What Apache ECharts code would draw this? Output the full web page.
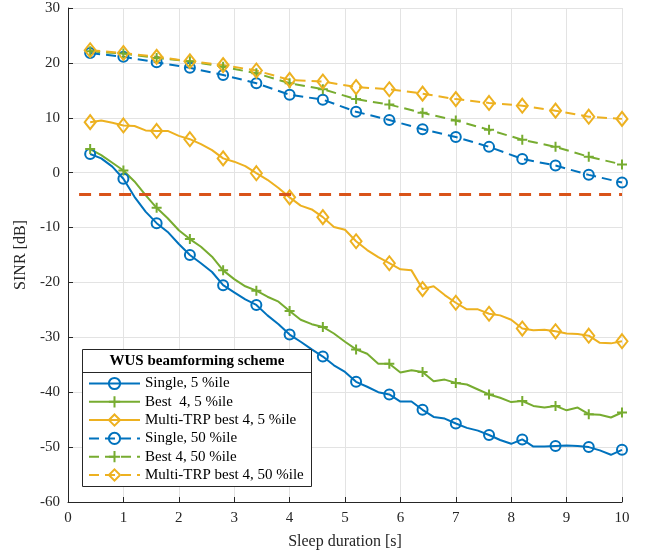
<!DOCTYPE html>
<html><head><meta charset="utf-8">
<script src="https://cdn.jsdelivr.net/npm/echarts@6/dist/echarts.min.js"></script>
<style>html,body{margin:0;padding:0;background:#fff}#c{width:647px;height:555px}</style>
</head><body><div id="c"></div>
<script>
// Sleep duration [s] - fine sampling for 5 %ile curves
const xFine = [0.4,0.6,0.8,1.0,1.2,1.4,1.6,1.8,2.0,2.2,2.4,2.6,2.8,3.0,3.2,3.4,3.6,3.8,4.0,4.2,4.4,4.6,4.8,5.0,5.2,5.4,5.6,5.8,6.0,6.2,6.4,6.6,6.8,7.0,7.2,7.4,7.6,7.8,8.0,8.2,8.4,8.6,8.8,9.0,9.2,9.4,9.6,9.8,10.0];
// marker positions / 50 %ile samples
const xMarker = [0.4,1.0,1.6,2.2,2.8,3.4,4.0,4.6,5.2,5.8,6.4,7.0,7.6,8.2,8.8,9.4,10.0];

const single5 = [3.4,2.6,1.1,-1.1,-4.4,-7.1,-9.2,-10.8,-13.0,-15.0,-16.5,-18.1,-20.5,-21.8,-23.1,-24.1,-26.0,-27.6,-29.5,-30.8,-32.2,-33.5,-35.1,-36.3,-38.1,-39.0,-40.0,-40.4,-41.7,-41.7,-43.2,-44.5,-44.8,-45.7,-46.5,-47.0,-47.8,-48.7,-49.4,-48.6,-49.9,-49.9,-49.8,-49.7,-49.8,-50.0,-50.6,-51.4,-50.5];
const best5 = [4.3,3.2,1.8,0.4,-1.6,-4.1,-6.4,-8.3,-10.5,-12.1,-13.5,-15.3,-17.8,-19.4,-20.7,-21.5,-22.6,-23.5,-25.2,-26.8,-27.6,-28.1,-29.3,-30.8,-32.2,-33.0,-34.8,-34.8,-36.4,-36.0,-36.3,-38.0,-37.7,-38.3,-38.6,-39.5,-40.4,-41.0,-41.8,-41.6,-42.5,-42.8,-42.5,-43.3,-42.8,-44.0,-44.1,-44.6,-43.7];
const multi5 = [9.2,9.5,9.1,8.6,8.5,7.7,7.6,7.6,6.7,6.1,5.2,4.1,2.6,2.0,1.2,-0.1,-1.3,-2.8,-4.5,-6.0,-6.7,-8.1,-9.9,-10.4,-12.5,-14.1,-15.4,-16.5,-17.6,-17.8,-21.2,-20.7,-22.3,-23.7,-24.9,-24.9,-25.7,-26.0,-26.8,-28.4,-28.7,-28.6,-28.9,-29.3,-29.4,-29.7,-31.0,-31.1,-30.7];
const single50 = [21.8,21.1,20.1,19.1,17.8,16.3,14.2,13.3,11.1,9.6,7.9,6.5,4.7,2.5,1.3,-0.4,-1.8];
const best50 = [22.1,21.7,20.9,20.3,19.3,18.1,16.3,15.2,13.4,12.4,10.9,9.5,7.8,6.0,4.7,2.9,1.5];
const multi50 = [22.3,21.8,21.1,20.3,19.6,18.6,16.9,16.6,15.6,15.2,14.4,13.4,12.7,12.2,11.3,10.2,9.8];
const thresholdX = [0.2,10.0];
const thresholdY = [-4,-4];

const names = ['Single, 5 %ile','Best  4, 5 %ile','Multi-TRP best 4, 5 %ile','Single, 50 %ile','Best 4, 50 %ile','Multi-TRP best 4, 50 %ile'];
const xTicks = [0,1,2,3,4,5,6,7,8,9,10];
const yTicks = [-60,-50,-40,-30,-20,-10,0,10,20,30];

const BLUE='#0072BD', GREEN='#77AC30', YEL='#EDB120', RED='#D95319';
const FONT='Liberation Serif';
const plusPath='path://M5,0L5,10M0,5L10,5';
const symbols = {
  circle:{symbol:'circle', size:10},
  plus:{symbol:plusPath, size:10},
  diamond:{symbol:'diamond', size:[11,14]}
};

function fineData(ys){
  return xFine.map((x,i)=> i%3===0 ? {value:[x,ys[i]]} : {value:[x,ys[i]], symbol:'none'});
}
function markerData(ys){ return xMarker.map((x,i)=>[x,ys[i]]); }

function mkSeries(name, data, color, sym, dashed){
  return {
    name, type:'line', data, z:2,
    symbol: symbols[sym].symbol, symbolSize: symbols[sym].size,
    showSymbol:true, showAllSymbol:true,
    itemStyle:{color:'rgba(255,255,255,0)', borderColor:color, borderWidth:2},
    lineStyle:{color, width:2, type: dashed ? [10,6] : 'solid'},
    emphasis:{disabled:true}, animation:false
  };
}

const series = [
  mkSeries(names[0], fineData(single5), BLUE, 'circle', false),
  mkSeries(names[1], fineData(best5), GREEN, 'plus', false),
  mkSeries(names[2], fineData(multi5), YEL, 'diamond', false),
  mkSeries(names[3], markerData(single50), BLUE, 'circle', true),
  mkSeries(names[4], markerData(best50), GREEN, 'plus', true),
  mkSeries(names[5], markerData(multi50), YEL, 'diamond', true),
  {name:'threshold', type:'line', data: thresholdX.map((x,i)=>[x,thresholdY[i]]), symbol:'none', z:3,
   lineStyle:{color:RED, width:3, type:[12,8]}, emphasis:{disabled:true}, animation:false}
];

const chart = echarts.init(document.getElementById('c'));
chart.setOption({
  animation:false,
  backgroundColor:'#fff',
  grid:{left:68, right:25, top:8, bottom:53, containLabel:false},
  xAxis:{type:'value', min:0, max:10, interval:1,
    name:'Sleep duration [s]', nameLocation:'middle', nameGap:32,
    nameTextStyle:{fontFamily:FONT, fontSize:16, color:'#262626'},
    axisLine:{show:true, onZero:false, lineStyle:{color:'#262626', width:1}},
    axisTick:{show:true, inside:true, length:5, lineStyle:{color:'#262626'}},
    axisLabel:{fontFamily:FONT, fontSize:15, color:'#262626', margin:9,
      formatter:v=> xTicks.includes(v) ? String(v) : ''},
    splitLine:{show:true, lineStyle:{color:'#e3e3e3', width:1}}},
  yAxis:{type:'value', min:-60, max:30, interval:10,
    name:'SINR [dB]', nameLocation:'middle', nameGap:38, nameRotate:90,
    nameTextStyle:{fontFamily:FONT, fontSize:16, color:'#262626'},
    axisLine:{show:true, onZero:false, lineStyle:{color:'#262626', width:1}},
    axisTick:{show:true, inside:true, length:5, lineStyle:{color:'#262626'}},
    axisLabel:{fontFamily:FONT, fontSize:15, color:'#262626', margin:8,
      formatter:v=> yTicks.includes(v) ? String(v) : ''},
    splitLine:{show:true, lineStyle:{color:'#e3e3e3', width:1}}},
  legend:{orient:'vertical', left:88, top:376, padding:0, itemWidth:51, itemHeight:14, itemGap:3.3,
    selectedMode:false, data:names, z:10,
    textStyle:{fontFamily:FONT, fontSize:15, color:'#000'}},
  graphic:[
    {type:'rect', z:8, shape:{x:82.5, y:349.5, width:229, height:137},
     style:{fill:'#fff', stroke:'#262626', lineWidth:1}},
    {type:'line', z:9, shape:{x1:82.5, y1:372.5, x2:311.5, y2:372.5},
     style:{stroke:'#262626', lineWidth:1}},
    {type:'text', z:9, x:197, y:361,
     style:{text:'WUS beamforming scheme', font:'bold 15px "Liberation Serif"', textAlign:'center', textVerticalAlign:'middle', fill:'#000'}}
  ],
  series
});
</script></body></html>
